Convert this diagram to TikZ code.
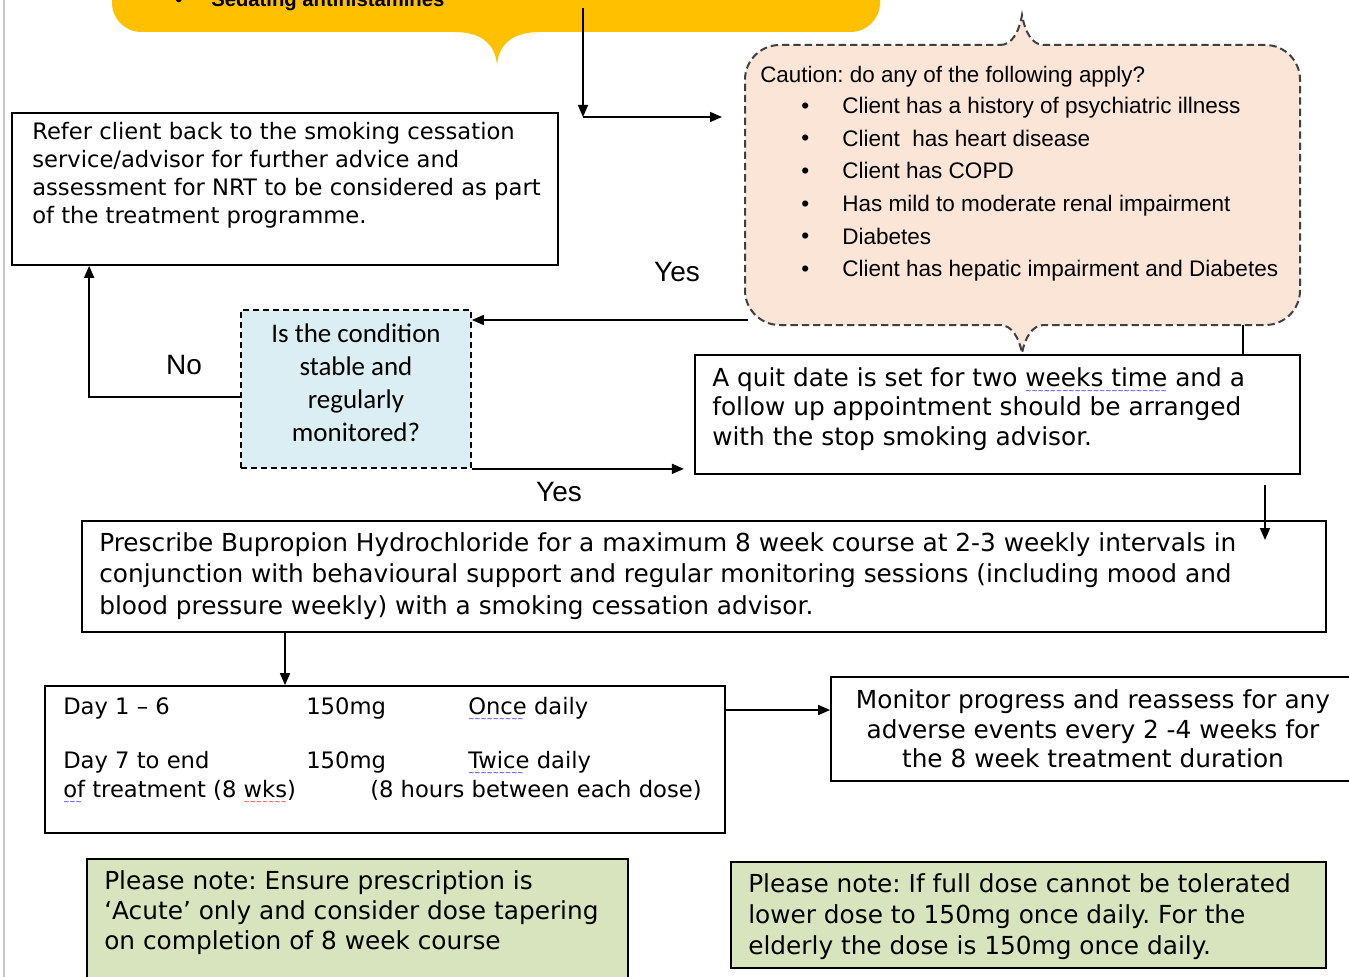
\documentclass[tikz,border=0pt]{standalone}
\usepackage{fontspec}
\setmainfont{DejaVu Sans}
\newfontfamily\vfont{DejaVu Sans}
\newfontfamily\afont{Liberation Sans}
\newfontfamily\cfont{Carlito}
\usetikzlibrary{arrows.meta,fit,calc}
\definecolor{yel}{HTML}{FFC000}
\definecolor{peach}{HTML}{FBE5D6}
\definecolor{lblue}{HTML}{DAEEF3}
\definecolor{lgreen}{HTML}{D7E4BD}
\definecolor{dgrey}{HTML}{404040}
\newcommand\wvu[2]{\setbox0\hbox{#2}\rlap{\raisebox{-5.5pt}[0pt][0pt]{\color{#1}\hbox to \wd0{\leaders\hbox{\vfont\fontsize{5.5}{5.5}\selectfont\char"223C}\hfill}}}\box0\relax}
\frenchspacing
\begin{document}
\frenchspacing
\begin{tikzpicture}[x=0.75pt,y=-0.75pt,
  box/.style={draw=black, line width=1.3pt, inner sep=0pt},
  arr/.style={-{Triangle[length=9pt,width=7.5pt]}, line width=1.2pt},
  ln/.style={line width=1.2pt},
  vtxt/.style 2 args={inner sep=0pt, anchor=west, align=left, font={\vfont\fontsize{#1}{#2}\selectfont}},
  atxt/.style={inner sep=0pt, font={\afont\fontsize{21}{24}\selectfont}}
]
\useasboundingbox (0,0) rectangle (1349,977);
% page border
\draw[color=black!22, line width=1pt] (4,0) -- (4,977);

% yellow callout (cut off at top)
\path[fill=yel] (880,-40) [rounded corners=22pt] -- (880,32) [sharp corners] -- (540,32)
  .. controls (515,32) and (499,42) .. (497,65)
  .. controls (495,42) and (479,32) .. (454,32) [rounded corners=22pt]
  -- (112,32) -- (112,-40) [sharp corners] -- cycle;
\node[fit={(112,-40)(880,32)}, inner sep=0pt] (yellow) {};
\node[inner sep=0pt, anchor=base west, font={\afont\bfseries\fontsize{15}{19}\selectfont}] (yb) at (175,6.5) {•};
\node[inner sep=0pt, anchor=base west, font={\afont\bfseries\fontsize{15.2}{19}\selectfont}] (yt) at (211,6.5) {Sedating antihistamines};

% caution callout
\path[draw=dgrey, dash pattern=on 5.5pt off 3pt, fill=peach, line width=1.5pt]
  (1000,45) .. controls (1012,45) and (1019,32) .. (1022,15)
  .. controls (1025,32) and (1032,45) .. (1044,45) [rounded corners=26pt]
  -- (1300,45) -- (1300,325) [sharp corners] -- (1044,325)
  .. controls (1032,325) and (1025,338) .. (1022,353)
  .. controls (1019,338) and (1012,325) .. (1000,325) [rounded corners=26pt]
  -- (745,325) -- (745,45) [sharp corners] -- cycle;
\node[fit={(745,45)(1300,325)}, inner sep=0pt] (caution) {};
\node[inner sep=0pt, anchor=west, font={\afont\fontsize{16.8}{18}\selectfont}] (ctitle) at (760,77) {Caution: do any of the following apply?};
\node[inner sep=0pt, anchor=west, align=left, font={\afont\fontsize{16.9}{24.5}\selectfont}] (cbul) at (801,189.5) {•\\•\\•\\•\\•\\•};
\node[inner sep=0pt, anchor=west, align=left, font={\afont\fontsize{16.9}{24.5}\selectfont}] (clist) at (842,189.5) {Client has a history of psychiatric illness\\Client\ \ has heart disease\\Client has COPD\\Has mild to moderate renal impairment\\Diabetes\\Client has hepatic impairment and Diabetes};

% boxes
\node[box, fit={(12,113)(558,265)}] (refer) {};
\node[vtxt={17}{21}] (refert) at (32,175) {Refer client back to the smoking cessation\\service/advisor for further advice and\\assessment for NRT to be considered as part\\of the treatment programme.};

\node[box, dash pattern=on 4.5pt off 3pt, fill=lblue, fit={(241,310)(471,468)}] (blue) {};
\node[inner sep=0pt, align=center, font={\cfont\fontsize{20.2}{24.75}\selectfont}] (bluet) at (356,383) {Is the condition\\stable and\\regularly\\monitored?};

\node[box, fit={(695,355)(1300,474)}] (quit) {};
\node[vtxt={18.6}{22.1}] (quitt) at (712,409) {A quit date is set for two \wvu{blue}{weeks time} and a\\follow up appointment should be arranged\\with the stop smoking advisor.};

\node[box, fit={(82,521)(1326,632)}] (presc) {};
\node[vtxt={18.6}{23.6}] (presct) at (99,576) {Prescribe Bupropion Hydrochloride for a maximum 8 week course at 2-3 weekly intervals in\\conjunction with behavioural support and regular monitoring sessions (including mood and\\blood pressure weekly) with a smoking cessation advisor.};

\node[box, fit={(45,686)(725,833)}] (dose) {};
\node[vtxt={17}{20}] (d1) at (63,708) {Day 1 – 6};
\node[vtxt={17}{20}] (d2) at (306,708) {150mg};
\node[vtxt={17}{20}] (d3) at (468,708) {\wvu{blue}{Once} daily};
\node[vtxt={17}{20}] (d4) at (63,762) {Day 7 to end};
\node[vtxt={17}{20}] (d5) at (306,762) {150mg};
\node[vtxt={17}{20}] (d6) at (468,762) {\wvu{blue}{Twice} daily};
\node[vtxt={17}{20}] (d7) at (63,790) {\wvu{blue}{of} treatment (8 \wvu{red}{wks})};
\node[vtxt={17}{20}] (d8) at (370,790) {(8 hours between each dose)};

\node[box, fit={(831,677)(1360,781)}] (monitor) {};
\node[inner sep=0pt, align=center, font={\vfont\fontsize{18.6}{22.1}\selectfont}] (monitort) at (1093,729) {Monitor progress and reassess for any\\adverse events every 2 -4 weeks for\\the 8 week treatment duration};

\node[box, fill=lgreen, fit={(87,859)(628,990)}] (green1) {};
\node[vtxt={18.6}{22.5}] (green1t) at (104,913) {Please note: Ensure prescription is\\‘Acute’ only and consider dose tapering\\on completion of 8 week course};

\node[box, fill=lgreen, fit={(731,862)(1326,968)}] (green2) {};
\node[vtxt={18.6}{23.25}] (green2t) at (748,917) {Please note: If full dose cannot be tolerated\\lower dose to 150mg once daily. For the\\elderly the dose is 150mg once daily.};

% labels
\node[atxt] (yes1) at (677,272) {Yes};
\node[atxt] (no) at (184,365) {No};
\node[atxt] (yes2) at (559,492) {Yes};

% connectors
\coordinate (ya) at (583,8);
\coordinate (j1) at (583,117);
\coordinate (cin) at (722,117);
\draw[arr] (ya) -- (j1);
\draw[arr] (j1) -- (cin);

\coordinate (cl) at (748,320);
\draw[arr] (cl) -- (cl -| blue.east);

\draw[arr] ($(blue.west)+(0,8)$) -| ($(refer.south west)+(78,0)$);

\draw[arr] (blue.south east) -- ($(blue.south east)+(212,0)$);

\coordinate (cq) at (1243,325);
\draw[ln] (cq) -- (cq |- quit.north);

\coordinate (qp) at (1265,485);
\draw[arr] (qp) -- (1265,540);

\coordinate (pd) at (285,632);
\draw[arr] (pd) -- (pd |- dose.north);

\coordinate (dm) at (725,710);
\draw[arr] (dm) -- (dm -| monitor.west);
\end{tikzpicture}
\end{document}
